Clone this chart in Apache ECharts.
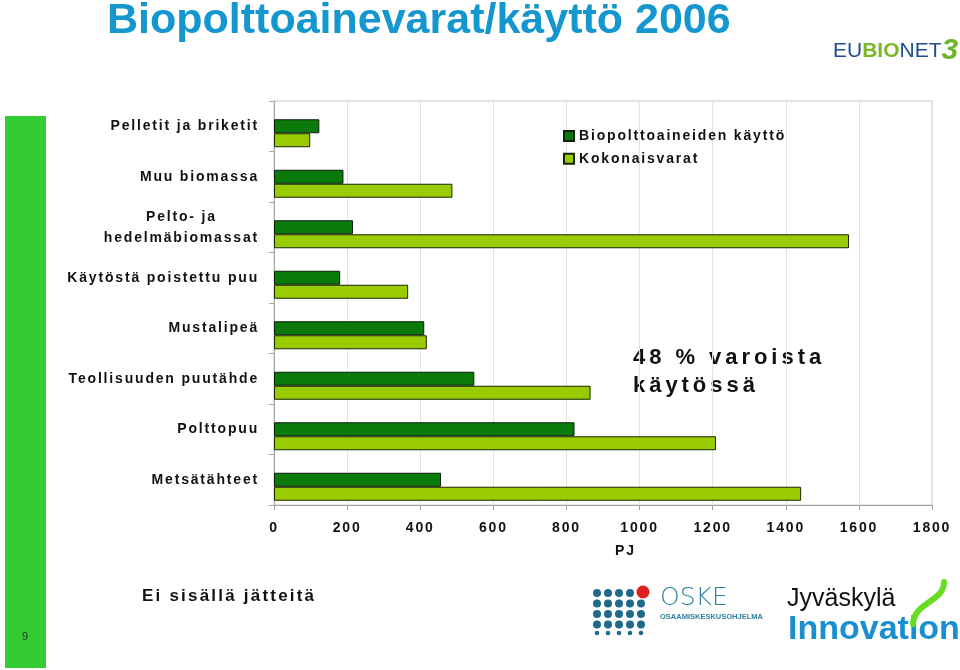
<!DOCTYPE html>
<html>
<head>
<meta charset="utf-8">
<script src="https://cdn.jsdelivr.net/npm/echarts@6/dist/echarts.min.js"></script>
<style>
html,body{margin:0;padding:0;background:#fff;}
#chart{width:960px;height:670px;}
</style>
</head>
<body>
<div id="chart"></div>
<script>
// ---- data ----
var categories = ['Pelletit ja briketit', 'Muu biomassa', 'Pelto- ja\nhedelmäbiomassat', 'Käytöstä poistettu puu', 'Mustalipeä', 'Teollisuuden puutähde', 'Polttopuu', 'Metsätähteet'];
var kaytto = [124, 190, 216, 181, 411, 548, 822, 457];      // Biopolttoaineiden käyttö (PJ)
var varat  = [99, 488, 1573, 367, 418, 866, 1209, 1442];    // Kokonaisvarat (PJ)
var seriesNames = ['Biopolttoaineiden käyttö', 'Kokonaisvarat'];
var xTicks = {min: 0, max: 1800, step: 200};

// letter spacing for the spaced bold texts (as in the original slide)
(function () {
  var P = window.CanvasRenderingContext2D && CanvasRenderingContext2D.prototype;
  if (!P || !('letterSpacing' in P)) return;
  function sp(ctx) {
    var f = ctx.font || '';
    var m = /(\d+(?:\.\d+)?)px/.exec(f);
    var s = 0;
    if (m && /\bbold\b/.test(f)) { var z = parseFloat(m[1]); s = z >= 20 ? z * 0.18 : z * 0.13; }
    var v = s.toFixed(2) + 'px';
    if (ctx.letterSpacing !== v) ctx.letterSpacing = v;
  }
  var ft = P.fillText, st = P.strokeText, mt = P.measureText;
  P.fillText = function () { sp(this); return ft.apply(this, arguments); };
  P.strokeText = function () { sp(this); return st.apply(this, arguments); };
  P.measureText = function () { sp(this); return mt.apply(this, arguments); };
})();

var FONT = '"Liberation Sans", Arial, sans-serif';
var lbl = {fontFamily: FONT, fontWeight: 'bold', fontSize: 14, color: '#111'};

var graphics = [
  {type: 'rect', shape: {x: 5, y: 116, width: 41, height: 552}, style: {fill: '#33cc33'}, silent: true},
  {type: 'text', x: 25, y: 637, style: {text: '9', fill: '#333', font: 'normal 11px ' + FONT, textAlign: 'center', textVerticalAlign: 'middle'}},
  {type: 'text', x: 107, y: 21, style: {text: 'Biopolttoainevarat/käyttö 2006', fill: '#1496cf', font: '800 43px ' + FONT, textAlign: 'left', textVerticalAlign: 'middle'}},
  {type: 'text', x: 633, y: 372, style: {text: '48 % varoista\nkäytössä', fill: '#111', font: 'bold 22px ' + FONT, lineHeight: 28, textAlign: 'left', textVerticalAlign: 'middle'}},
  {type: 'text', x: 142, y: 596, style: {text: 'Ei sisällä jätteitä', fill: '#111', font: 'bold 17px ' + FONT, textAlign: 'left', textVerticalAlign: 'middle'}},
  // EUBIONET3 logo
  {type: 'text', x: 833, y: 51, style: {
    text: '{a|EU}{b|BIO}{a|NET}{c|3}', textAlign: 'left', textVerticalAlign: 'middle',
    rich: {
      a: {fill: '#1d4e8f', font: 'normal 21px ' + FONT},
      b: {fill: '#7ab82a', font: '800 21px ' + FONT},
      c: {fill: '#6cb52a', font: 'italic 800 30px ' + FONT}
    }}},
  // OSKE logo
  {type: 'text', x: 660, y: 598, style: {text: 'OSKE', fill: '#2f7f9f', font: '200 25px "DejaVu Sans", sans-serif', textAlign: 'left', textVerticalAlign: 'middle'}},
  {type: 'text', x: 660, y: 617, style: {text: 'OSAAMISKESKUSOHJELMA', fill: '#2f7f9f', font: '600 7.5px ' + FONT, textAlign: 'left', textVerticalAlign: 'middle'}},
  // Jyväskylä Innovation logo
  {type: 'text', x: 787, y: 599, style: {text: 'Jyväskylä', fill: '#111', font: 'normal 25px ' + FONT, textAlign: 'left', textVerticalAlign: 'middle'}},
  {type: 'text', x: 788, y: 630, style: {text: 'Innovation', fill: '#1a8fd0', font: '800 34px ' + FONT, textAlign: 'left', textVerticalAlign: 'middle'}},
  {type: 'bezierCurve', shape: {x1: 944, y1: 582, cpx1: 944, cpy1: 602, cpx2: 914, cpy2: 602, x2: 913, y2: 624}, style: {stroke: '#66dd22', lineWidth: 6, fill: null, lineCap: 'round'}}
];
// OSKE dot grid (decoration)
(function () {
  var xs = [597, 608, 619, 630, 641], ys = [593, 603.5, 614, 624.5];
  for (var r = 0; r < ys.length; r++) {
    for (var c = 0; c < xs.length; c++) {
      if (r === 0 && c === 4) continue;
      graphics.push({type: 'circle', shape: {cx: xs[c], cy: ys[r], r: 4}, style: {fill: '#1f6a8a'}, silent: true});
    }
  }
  for (var c2 = 0; c2 < xs.length; c2++) {
    graphics.push({type: 'circle', shape: {cx: xs[c2], cy: 633, r: 2.3}, style: {fill: '#1f6a8a'}, silent: true});
  }
  graphics.push({type: 'circle', shape: {cx: 643, cy: 592, r: 6.5}, style: {fill: '#e02020'}, silent: true});
})();

var chart = echarts.init(document.getElementById('chart'), null, {renderer: 'canvas'});
chart.setOption({
  animation: false,
  backgroundColor: '#fff',
  grid: {left: 274, right: 28, top: 101, bottom: 165, containLabel: false, show: true, borderColor: '#c8c8c8', borderWidth: 1, backgroundColor: 'transparent'},
  legend: {
    data: seriesNames, orient: 'vertical', left: 563, top: 128, padding: 0, itemWidth: 10, itemHeight: 10, itemGap: 7,
    icon: 'rect', selectedMode: false, textStyle: lbl
  },
  xAxis: {
    type: 'value', min: xTicks.min, max: xTicks.max, interval: xTicks.step,
    axisLine: {show: true, lineStyle: {color: '#a6a6a6'}},
    axisTick: {show: true, length: 5, lineStyle: {color: '#a6a6a6'}},
    splitLine: {show: true, lineStyle: {color: '#e3e3e3'}},
    axisLabel: Object.assign({margin: 15, showMinLabel: true, showMaxLabel: true,
      formatter: function (v) { return String(v); }}, lbl),
    name: 'PJ', nameLocation: 'middle', nameGap: 38,
    nameTextStyle: Object.assign({padding: [0, 0, 0, 45]}, lbl)
  },
  yAxis: {
    type: 'category', data: categories, inverse: true,
    axisLine: {show: true, lineStyle: {color: '#a6a6a6'}},
    axisTick: {show: true, length: 5, lineStyle: {color: '#a6a6a6'}},
    splitLine: {show: false},
    axisLabel: Object.assign({
      margin: 15, interval: 0, lineHeight: 21,
      formatter: function (v) {
        if (v.indexOf('\n') >= 0) return v.split('\n').map(function (s) { return '{c|' + s + '}'; }).join('\n');
        return v;
      },
      rich: {c: Object.assign({align: 'center', lineHeight: 21}, lbl)}
    }, lbl)
  },
  series: [
    {type: 'bar', name: '_spacer', data: [], barWidth: 14, barGap: '0%', silent: true, itemStyle: {color: 'transparent'}},
    {type: 'bar', name: seriesNames[0], data: kaytto, barWidth: 14, barGap: '0%',
      itemStyle: {color: '#0a7a0a', borderColor: '#0d1f0d', borderWidth: 1}},
    {type: 'bar', name: seriesNames[1], data: varat, barWidth: 14, barGap: '0%',
      itemStyle: {color: '#99cc00', borderColor: '#1a2600', borderWidth: 1}}
  ],
  graphic: graphics
});
</script>
</body>
</html>
